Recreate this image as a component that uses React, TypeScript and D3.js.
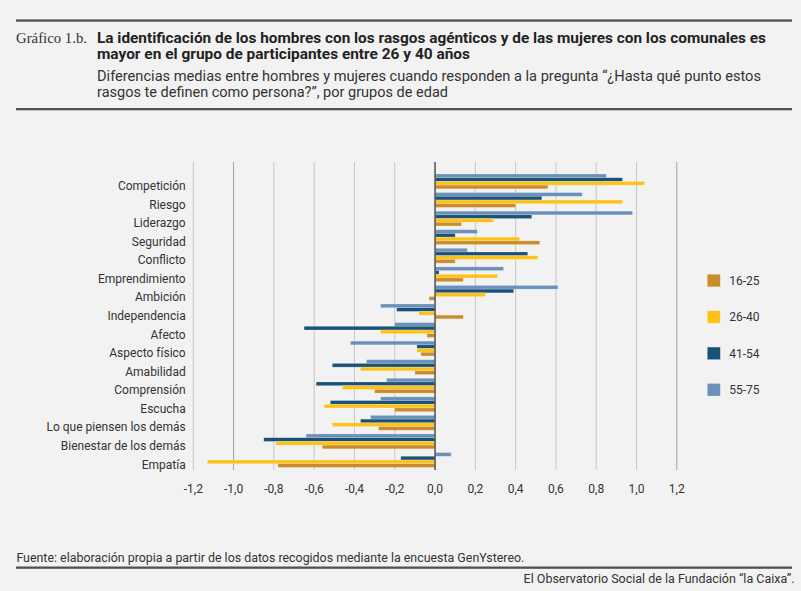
import React from "react";
import * as d3 from "d3";

const categories = [
  "Competición", "Riesgo", "Liderazgo", "Seguridad", "Conflicto", "Emprendimiento",
  "Ambición", "Independencia", "Afecto", "Aspecto físico", "Amabilidad", "Comprensión",
  "Escucha", "Lo que piensen los demás", "Bienestar de los demás", "Empatía",
];
const seriesNames = ["16-25", "26-40", "41-54", "55-75"];
const v16_25 = [0.56, 0.40, 0.13, 0.52, 0.10, 0.14, -0.03, 0.14, -0.04, -0.07, -0.10, -0.30, -0.20, -0.28, -0.56, -0.78];
const v26_40 = [1.04, 0.93, 0.29, 0.42, 0.51, 0.31, 0.25, -0.08, -0.27, -0.09, -0.37, -0.46, -0.55, -0.51, -0.79, -1.13];
const v41_54 = [0.93, 0.53, 0.48, 0.10, 0.46, 0.02, 0.39, -0.19, -0.65, -0.09, -0.51, -0.59, -0.52, -0.37, -0.85, -0.17];
const v55_75 = [0.85, 0.73, 0.98, 0.21, 0.16, 0.34, 0.61, -0.27, -0.20, -0.42, -0.34, -0.24, -0.27, -0.32, -0.64, 0.08];
const tickValues = [-1.2, -1.0, -0.8, -0.6, -0.4, -0.2, 0, 0.2, 0.4, 0.6, 0.8, 1.0, 1.2];

const colors: Record<string, string> = {
  "16-25": "#c98c2b",
  "26-40": "#fdc217",
  "41-54": "#1a5179",
  "55-75": "#6991ba",
};
const valuesBySeries: Record<string, number[]> = {
  "16-25": v16_25,
  "26-40": v26_40,
  "41-54": v41_54,
  "55-75": v55_75,
};
// order of bars inside a group, top to bottom
const barOrder = ["55-75", "41-54", "26-40", "16-25"];

const W = 801;
const H = 591;
const SANS = "Roboto, 'Noto Sans', sans-serif";

export default function App() {
  const x = d3.scaleLinear().domain([-1.2, 1.2]).range([193.3, 676.8]);
  const step = 18.57;
  const y = d3
    .scaleBand<string>()
    .domain(categories)
    .range([174, 174 + step * (categories.length - 0.2)])
    .paddingInner(0.2)
    .paddingOuter(0);
  const inner = d3.scaleBand<string>().domain(barOrder).range([0, y.bandwidth()]).padding(0);
  const fmt = (v: number) => d3.format(".1f")(v).replace(".", ",").replace("−", "-");
  const gridTop = 162;
  const gridBottom = 470;

  return (
    <svg
      width={W}
      height={H}
      style={{ position: "absolute", left: 0, top: 0, background: "#f2f2f2" }}
      xmlns="http://www.w3.org/2000/svg"
    >
      <rect x={0} y={0} width={W} height={H} fill="#f2f2f2" />
      {/* header */}
      <rect x={16} y={19.4} width={776} height={2.3} fill="#505050" />
      <text x={16} y={42.7} fontFamily="'Liberation Serif', serif" fontSize={15} fill="#333" textLength={71} lengthAdjust="spacingAndGlyphs">
        Gráfico 1.b.
      </text>
      <text x={97} y={42.7} fontFamily={SANS} fontWeight="bold" fontSize={15} fill="#222" textLength={669} lengthAdjust="spacingAndGlyphs">
        La identificación de los hombres con los rasgos agénticos y de las mujeres con los comunales es
      </text>
      <text x={97} y={58.7} fontFamily={SANS} fontWeight="bold" fontSize={15} fill="#222" textLength={373} lengthAdjust="spacingAndGlyphs">
        mayor en el grupo de participantes entre 26 y 40 años
      </text>
      <text x={97} y={81} fontFamily={SANS} fontSize={15} fill="#333" textLength={664} lengthAdjust="spacingAndGlyphs">
        Diferencias medias entre hombres y mujeres cuando responden a la pregunta “¿Hasta qué punto estos
      </text>
      <text x={97} y={97} fontFamily={SANS} fontSize={15} fill="#333" textLength={351} lengthAdjust="spacingAndGlyphs">
        rasgos te definen como persona?”, por grupos de edad
      </text>
      <rect x={16} y={108} width={776} height={2.3} fill="#505050" />

      {/* grid */}
      {tickValues.map((t) =>
        t === 0 ? null : (
          <line
            key={"g" + t}
            x1={x(t)}
            x2={x(t)}
            y1={gridTop}
            y2={gridBottom}
            stroke={t === -1.0 || t === 1.2 ? "#a0a0a0" : "#c6c6c6"}
            strokeWidth={1}
          />
        )
      )}

      {/* bars */}
      {categories.map((c, i) => (
        <g key={c} transform={`translate(0,${y(c)})`}>
          {barOrder.map((s) => {
            const v = valuesBySeries[s][i];
            const x0 = x(Math.min(0, v));
            const x1 = x(Math.max(0, v));
            return (
              <rect
                key={s}
                x={x0}
                y={inner(s)}
                width={x1 - x0}
                height={inner.bandwidth()}
                fill={colors[s]}
                stroke="#ffffff"
                strokeOpacity={0.35}
                strokeWidth={0.6}
              />
            );
          })}
        </g>
      ))}

      {/* zero line */}
      <line x1={x(0)} x2={x(0)} y1={gridTop} y2={gridBottom} stroke="#5a5a5a" strokeWidth={1.6} />

      {/* category labels */}
      {categories.map((c) => (
        <text key={"l" + c} x={185.7} y={(y(c) as number) + 16} textAnchor="end" fontFamily={SANS} fontSize={12} fill="#333">
          {c}
        </text>
      ))}

      {/* x tick labels */}
      {tickValues.map((t) => (
        <text key={"t" + t} x={x(t)} y={492.5} textAnchor="middle" fontFamily={SANS} fontSize={12} fill="#333">
          {fmt(t)}
        </text>
      ))}

      {/* legend */}
      {seriesNames.map((s, i) => (
        <g key={"lg" + s} transform={`translate(707.3,${274.3 + i * 36.4})`}>
          <rect x={0} y={0} width={13} height={12.5} fill={colors[s]} stroke="#ffffff" strokeOpacity={0.35} strokeWidth={0.6} />
          <text x={22} y={10.6} fontFamily={SANS} fontSize={12} fill="#333">
            {s}
          </text>
        </g>
      ))}

      {/* footer */}
      <text x={16.4} y={561.7} fontFamily={SANS} fontSize={12} fill="#333" textLength={508} lengthAdjust="spacingAndGlyphs">
        Fuente: elaboración propia a partir de los datos recogidos mediante la encuesta GenYstereo.
      </text>
      <rect x={16} y={566.5} width={776} height={2.3} fill="#505050" />
      <text x={794.6} y={582.7} textAnchor="end" fontFamily={SANS} fontSize={12} fill="#333" textLength={271} lengthAdjust="spacingAndGlyphs">
        El Observatorio Social de la Fundación “la Caixa”.
      </text>
    </svg>
  );
}
